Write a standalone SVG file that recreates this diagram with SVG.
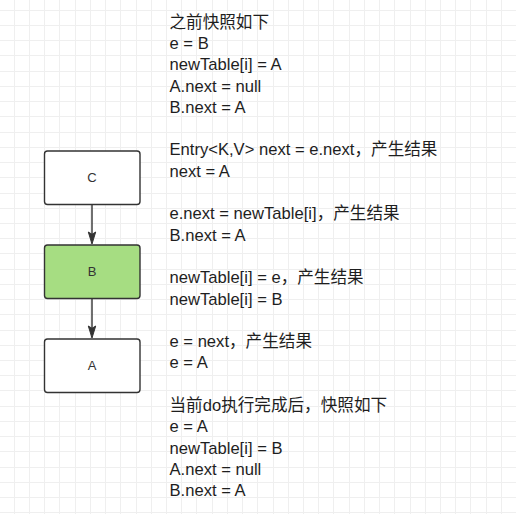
<svg xmlns="http://www.w3.org/2000/svg" width="516" height="514" viewBox="0 0 516 514">
<style>
.grid{stroke:#efefef;stroke-width:1;fill:none}
.node rect{stroke:#333333;stroke-width:1.4}
.node text{font-family:"Liberation Sans",Arial,sans-serif;font-size:13px;fill:#333;text-anchor:middle}
.edge{stroke:#333333;stroke-width:1.4;fill:none}
.head{fill:#333333;stroke:#333333;stroke-width:1}
.note{font-family:"Liberation Sans","Noto Sans CJK SC",sans-serif;font-size:16.6px;fill:#1e1e1e}
</style>
<rect width="516" height="514" fill="#ffffff"/>
<path class="grid" d="M14.5 0V514M29.5 0V514M44.5 0V514M59.5 0V514M75.5 0V514M90.5 0V514M105.5 0V514M120.5 0V514M136.5 0V514M151.5 0V514M166.5 0V514M181.5 0V514M196.5 0V514M212.5 0V514M227.5 0V514M242.5 0V514M257.5 0V514M273.5 0V514M288.5 0V514M303.5 0V514M318.5 0V514M333.5 0V514M349.5 0V514M364.5 0V514M379.5 0V514M394.5 0V514M410.5 0V514M425.5 0V514M440.5 0V514M455.5 0V514M470.5 0V514M486.5 0V514M501.5 0V514
M0 10.5H516M0 25.5H516M0 40.5H516M0 55.5H516M0 71.5H516M0 86.5H516M0 101.5H516M0 116.5H516M0 132.5H516M0 147.5H516M0 162.5H516M0 177.5H516M0 193.5H516M0 208.5H516M0 223.5H516M0 238.5H516M0 253.5H516M0 269.5H516M0 284.5H516M0 299.5H516M0 314.5H516M0 330.5H516M0 345.5H516M0 360.5H516M0 375.5H516M0 390.5H516M0 406.5H516M0 421.5H516M0 436.5H516M0 451.5H516M0 467.5H516M0 482.5H516M0 497.5H516M0 512.5H516"/>
<g id="connectors">
<path class="edge" d="M92 204.5V235"/>
<polygon class="head" points="92,244 88.3,232 92,234.3 95.7,232"/>
<path class="edge" d="M92 298.5V329"/>
<polygon class="head" points="92,338 88.3,326 92,328.3 95.7,326"/>
</g>
<g id="node-C" class="node">
<rect x="44.5" y="151" width="95.5" height="53.5" rx="3" fill="#ffffff"/>
<text x="92" y="182.3">C</text>
</g>
<g id="node-B" class="node">
<rect x="44.5" y="245" width="95.5" height="53.5" rx="3" fill="#a6dd82"/>
<text x="92" y="276.3">B</text>
</g>
<g id="node-A" class="node">
<rect x="44.5" y="339" width="95.5" height="53.5" rx="3" fill="#ffffff"/>
<text x="92" y="370.3">A</text>
</g>
<g id="note">
<text class="note">
<tspan x="169.5" y="27.7">之前快照如下</tspan>
<tspan x="169.5" y="49">e = B</tspan>
<tspan x="169.5" y="70.3">newTable[i] = A</tspan>
<tspan x="169.5" y="91.6">A.next = null</tspan>
<tspan x="169.5" y="112.9">B.next = A</tspan>
<tspan x="169.5" y="155.4">Entry&lt;K,V&gt; next = e.next，产生结果</tspan>
<tspan x="169.5" y="176.7">next = A</tspan>
<tspan x="169.5" y="219.3">e.next = newTable[i]，产生结果</tspan>
<tspan x="169.5" y="240.6">B.next = A</tspan>
<tspan x="169.5" y="283.2">newTable[i] = e，产生结果</tspan>
<tspan x="169.5" y="304.5">newTable[i] = B</tspan>
<tspan x="169.5" y="347">e = next，产生结果</tspan>
<tspan x="169.5" y="368.3">e = A</tspan>
<tspan x="169.5" y="410.9">当前do执行完成后，快照如下</tspan>
<tspan x="169.5" y="432.2">e = A</tspan>
<tspan x="169.5" y="453.5">newTable[i] = B</tspan>
<tspan x="169.5" y="474.8">A.next = null</tspan>
<tspan x="169.5" y="496.1">B.next = A</tspan>
</text>
</g>
</svg>
